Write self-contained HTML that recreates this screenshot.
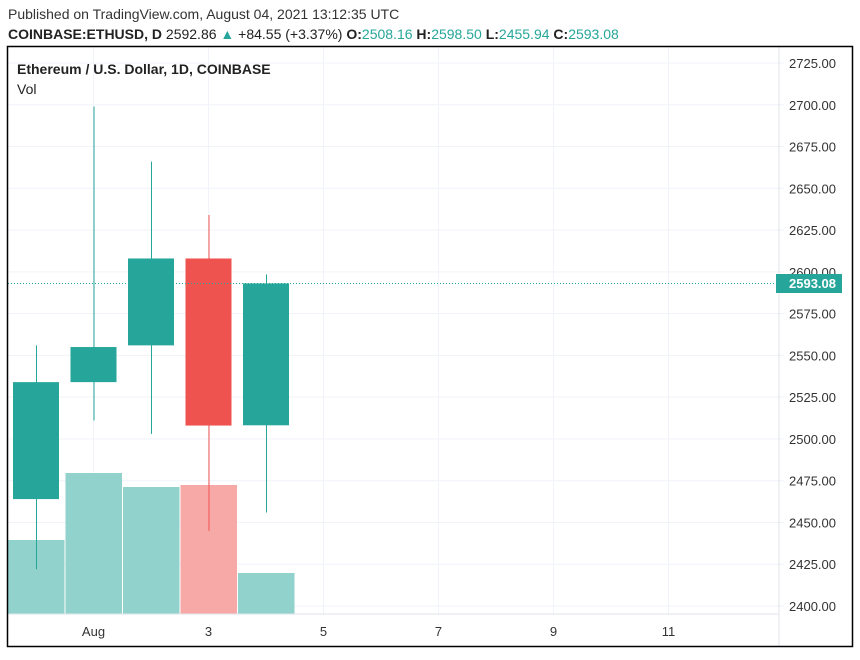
<!DOCTYPE html>
<html><head><meta charset="utf-8">
<style>
body{margin:0;background:#fff;font-family:"Liberation Sans",sans-serif;}
svg text{font-family:"Liberation Sans",sans-serif;}
</style></head>
<body>
<svg width="860" height="655" xmlns="http://www.w3.org/2000/svg" id="chart">
<text x="8" y="19" font-size="14" fill="#333">Published on TradingView.com, August 04, 2021 13:12:35 UTC</text>
<text x="8" y="39" font-size="14" fill="#222"><tspan font-weight="bold">COINBASE:ETHUSD, D</tspan> 2592.86 <tspan fill="#26a69a">▲</tspan> +84.55 (+3.37%) <tspan font-weight="bold">O:</tspan><tspan fill="#26a69a">2508.16</tspan> <tspan font-weight="bold">H:</tspan><tspan fill="#26a69a">2598.50</tspan> <tspan font-weight="bold">L:</tspan><tspan fill="#26a69a">2455.94</tspan> <tspan font-weight="bold">C:</tspan><tspan fill="#26a69a">2593.08</tspan></text>
<g id="grid"></g>
<g id="vol"></g>
<g id="candles"></g>
<line x1="8" x2="779" y1="614" y2="614" stroke="#e0e3eb"/>
<line x1="779" x2="779" y1="46" y2="646" stroke="#e0e3eb"/>
<g id="yaxis"></g>
<g id="xaxis"></g>
<line x1="8" x2="779" y1="283.5" y2="283.5" stroke="#26a69a" stroke-dasharray="1,2"/>
<rect x="776" y="274" width="66" height="19" fill="#26a69a"/>
<text x="789" y="288" font-size="13" fill="#fff" font-weight="bold">2593.08</text>
<rect x="7.5" y="46.5" width="845" height="600" fill="none" stroke="#000" stroke-width="1.5"/>
<text x="17" y="74" font-size="14" font-weight="bold" fill="#222">Ethereum / U.S. Dollar, 1D, COINBASE</text>
<text x="17" y="94" font-size="14" fill="#222">Vol</text>
</svg>
<script>
const dates=[0,1,2,3,4];
const opens=[2464,2534,2556,2608,2508.16];
const highs=[2556,2699,2666,2634,2598.5];
const lows=[2422,2511,2503,2445,2455.94];
const closes=[2534,2555,2608,2508,2593.08];
const volumes=[74,141,127,129,41];
const yTicks=[2400,2425,2450,2475,2500,2525,2550,2575,2600,2625,2650,2675,2700,2725];
const xTickDays=[1,3,5,7,9,11];
const xTickLabels=["Aug","3","5","7","9","11"];
const NS="http://www.w3.org/2000/svg";
const xS=d=>36+d*57.5;
const yS=p=>606-(p-2400)*(543/325);
const vS=v=>614-v;
function mk(tag,attrs,parent){const e=document.createElementNS(NS,tag);for(const k in attrs)e.setAttribute(k,attrs[k]);document.getElementById(parent).appendChild(e);return e;}
yTicks.forEach(t=>{
  const l=mk('line',{x1:8,x2:784,y1:yS(t),y2:yS(t),stroke:'#f0f3fa'},'grid');
  
  
  const tx=mk('text',{x:789,y:yS(t)+5,'font-size':13,fill:'#333'},'yaxis');
  tx.textContent=t.toFixed(2);
  
  
});
xTickDays.forEach((d,i)=>{
  const l=mk('line',{x1:xS(d),x2:xS(d),y1:47,y2:614,stroke:'#f0f3fa'},'grid');
  
  
  const tx=mk('text',{x:xS(d),y:636,'font-size':13,fill:'#333','text-anchor':'middle'},'xaxis');
  tx.textContent=xTickLabels[i];
  
  
});
dates.forEach((d,i)=>{
  const up=closes[i]>=opens[i];
  const r=mk('rect',{x:xS(d)-28,y:vS(volumes[i]),width:56.5,height:volumes[i],fill:up?'#92d2cc':'#f7a9a7'},'vol');
  
  
  const c=up?'#26a69a':'#ef5350';
  const w=mk('line',{x1:xS(d)+0.5,x2:xS(d)+0.5,y1:yS(highs[i]),y2:yS(lows[i]),stroke:c,'stroke-width':1},'candles');
  
  
  const top=yS(Math.max(opens[i],closes[i])),bot=yS(Math.min(opens[i],closes[i]));
  const b=mk('rect',{x:xS(d)-23,y:top,width:46,height:bot-top,fill:c},'candles');
  
  
});
</script>
</body></html>
